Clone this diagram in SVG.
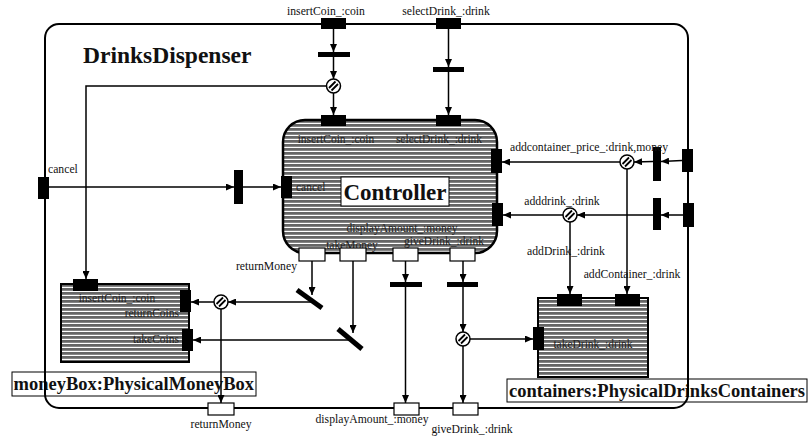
<svg xmlns="http://www.w3.org/2000/svg" xmlns:xlink="http://www.w3.org/1999/xlink" width="810" height="439" viewBox="0 0 810 439">
<style>
text{font-family:"Liberation Serif","Times New Roman",Times,"DejaVu Serif",serif;fill:#111}
.sm{font-size:11.7px}
.in{font-size:11.5px;fill:#222}
.big{font-size:23.5px;font-weight:bold}
.lbl{font-size:18.5px;font-weight:bold}
.port{fill:#000}
.wport{fill:#fff;stroke:#000;stroke-width:1.2}
.bar{fill:#000}
.box{fill:url(#stripes);stroke:#000;stroke-width:2.5}
.lblbox{fill:#fff;stroke:#000;stroke-width:1}
.frame{fill:none;stroke:#000;stroke-width:2}
.c{fill:none;stroke:#000;stroke-width:1.5}
.a{marker-end:url(#arr)}
</style>
<defs>
<pattern id="stripes" width="4" height="4" patternUnits="userSpaceOnUse">
<rect width="4" height="4" fill="#666"/>
<rect y="2.8" width="4" height="1.2" fill="#fff"/>
</pattern>
<marker id="arr" markerWidth="8" markerHeight="7" refX="8" refY="3.5" orient="auto" markerUnits="userSpaceOnUse">
<path d="M0,0 L8,3.5 L0,7 z" fill="#000"/>
</marker>
<g id="dec">
<circle r="7" fill="#fff" stroke="#000" stroke-width="1.5"/>
<path d="M-4.5,2 L2,-4.5 M-2,4.5 L4.5,-2" stroke="#000" stroke-width="1.8"/>
</g>
</defs>

<g id="title"><text class="big" x="83" y="63" font-family="Liberation Serif, serif">DrinksDispenser</text></g>

<g id="controller">
<rect class="box" x="283" y="120" width="214" height="133" rx="22"/>
<rect class="lblbox" x="341" y="177" width="108" height="29"/>
<text class="big" x="395" y="200" text-anchor="middle" style="font-size:23px">Controller</text>
<rect class="port" x="321" y="115" width="25" height="11"/>
<rect class="port" x="436" y="115" width="25" height="11"/>
<text class="in" x="336" y="143" text-anchor="middle">insertCoin_:coin</text>
<text class="in" x="439" y="143" text-anchor="middle">selectDrink_:drink</text>
<rect class="port" x="281" y="176" width="11" height="22"/>
<text class="in" x="296" y="191">cancel</text>
<rect class="port" x="491" y="149" width="11" height="24"/>
<rect class="port" x="492" y="203" width="11" height="23"/>
<text class="in" x="402" y="232" text-anchor="middle">displayAmount_:money</text>
<text class="in" x="352" y="249" text-anchor="middle">takeMoney</text>
<text class="in" x="444" y="245" text-anchor="middle">giveDrink_:drink</text>
<rect class="wport" x="299" y="248" width="26" height="13"/>
<rect class="wport" x="340" y="248" width="26" height="13"/>
<rect class="wport" x="393" y="248" width="25" height="13"/>
<rect class="wport" x="450" y="248" width="25" height="13"/>
<text class="sm" x="297" y="270" text-anchor="end">returnMoney</text>
</g>

<g id="moneyBox">
<rect class="box" x="61" y="284" width="128" height="78" style="stroke-width:2"/>
<rect class="port" x="73" y="279" width="25" height="12"/>
<text class="in" x="117" y="302" text-anchor="middle">insertCoin_:coin</text>
<rect class="port" x="180" y="290" width="11" height="22"/>
<text class="in" x="179" y="317" text-anchor="end">returnCoins</text>
<rect class="port" x="182" y="329" width="11" height="22"/>
<text class="in" x="179" y="343" text-anchor="end">takeCoins</text>
<rect class="lblbox" x="12" y="372" width="244" height="24"/>
<text class="lbl" x="13.5" y="390">moneyBox:PhysicalMoneyBox</text>
</g>

<g id="containers">
<rect class="box" x="538" y="298" width="110" height="79" style="stroke-width:2"/>
<rect class="port" x="557" y="294" width="25" height="12"/>
<rect class="port" x="615" y="294" width="25" height="12"/>
<rect class="port" x="533" y="327" width="11" height="23"/>
<text class="in" x="593" y="348" text-anchor="middle">takeDrink_:drink</text>
<rect class="lblbox" x="507" y="379" width="300" height="23"/>
<text class="lbl" x="509" y="397">containers:PhysicalDrinksContainers</text>
</g>

<g id="frame">
<rect class="frame" x="45" y="24" width="643" height="384" rx="14"/>
</g>

<g id="connectors">
<path class="c a" d="M333.5,29 V52"/>
<path class="c a" d="M333.5,57 V79"/>
<path class="c a" d="M333.5,93 V115"/>
<path class="c a" d="M326.5,86 H86 V279"/>
<path class="c a" d="M448.5,29 V67"/>
<path class="c a" d="M448.5,72 V115"/>
<path class="c a" d="M49,187 H234"/>
<path class="c a" d="M243,187 H281"/>
<path class="c a" d="M682,160.5 L661,161.5"/>
<path class="c a" d="M653,161.5 L634,162"/>
<path class="c a" d="M620,162 H502"/>
<path class="c a" d="M627,169 V294"/>
<path class="c a" d="M683,215 H661"/>
<path class="c a" d="M653,215 H577"/>
<path class="c a" d="M563,215 H503"/>
<path class="c a" d="M570,222 V294"/>
<path class="c a" d="M312,261 V295"/>
<path class="c a" d="M313,302 H228"/>
<path class="c a" d="M214,302 H191"/>
<path class="c a" d="M221,309 V403"/>
<path class="c a" d="M353,261 V333"/>
<path class="c a" d="M351,340 H193"/>
<path class="c a" d="M405.5,261 V282"/>
<path class="c a" d="M405.5,287 V403"/>
<path class="c a" d="M463,261 V282"/>
<path class="c a" d="M463,287 V332"/>
<path class="c a" d="M470,339 H533"/>
<path class="c a" d="M463,346 V403"/>
</g>

<g id="boundaryPorts">
<rect class="port" x="321" y="18" width="25" height="11"/>
<text class="sm" x="326" y="15" text-anchor="middle">insertCoin_:coin</text>
<rect class="port" x="436" y="18" width="25" height="11"/>
<text class="sm" x="446" y="15" text-anchor="middle">selectDrink_:drink</text>
<rect class="port" x="38" y="177" width="11" height="22"/>
<text class="sm" x="48" y="173">cancel</text>
<rect class="port" x="682" y="149" width="11" height="23"/>
<rect class="port" x="683" y="203" width="11" height="24"/>
<rect class="wport" x="208" y="403" width="26" height="12"/>
<text class="sm" x="221" y="428" text-anchor="middle">returnMoney</text>
<rect class="wport" x="394" y="403" width="25" height="12"/>
<text class="sm" x="372" y="423" text-anchor="middle">displayAmount_:money</text>
<rect class="wport" x="453" y="403" width="25" height="12"/>
<text class="sm" x="472" y="433" text-anchor="middle">giveDrink_:drink</text>
</g>

<g id="bars">
<rect class="bar" x="318" y="52" width="32" height="5"/>
<rect class="bar" x="433" y="67" width="31" height="5"/>
<rect class="bar" x="234" y="170" width="9" height="34"/>
<rect class="bar" x="653" y="147" width="8" height="34"/>
<rect class="bar" x="653" y="198" width="8" height="32"/>
<rect class="bar" x="390" y="282" width="32" height="5"/>
<rect class="bar" x="447" y="282" width="31" height="5"/>
<path d="M297,290 L322,308" stroke="#000" stroke-width="5"/>
<path d="M338,329 L362,349" stroke="#000" stroke-width="5"/>
</g>

<g id="decisions">
<use xlink:href="#dec" x="333.5" y="86"/>
<use xlink:href="#dec" x="627" y="162"/>
<use xlink:href="#dec" x="570" y="215"/>
<use xlink:href="#dec" x="221" y="302"/>
<use xlink:href="#dec" x="463" y="339"/>
</g>

<g id="extLabels">
<text class="sm" x="589" y="151" text-anchor="middle">addcontainer_price_:drink,money</text>
<text class="sm" x="562" y="205" text-anchor="middle">adddrink_:drink</text>
<text class="sm" x="566" y="255" text-anchor="middle">addDrink_:drink</text>
<text class="sm" x="632" y="278" text-anchor="middle">addContainer_:drink</text>
</g>
</svg>
